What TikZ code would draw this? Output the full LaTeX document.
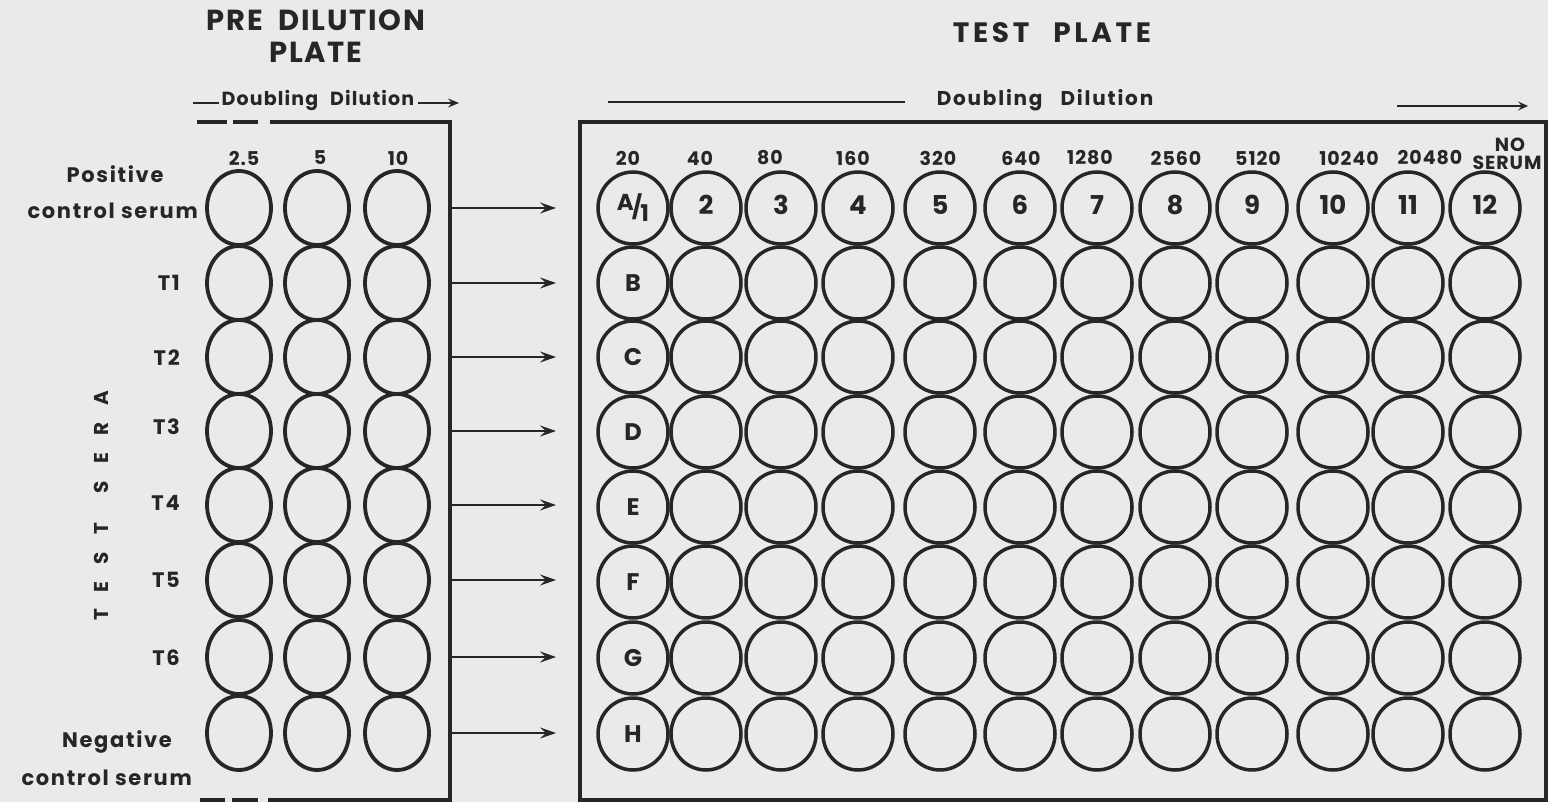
\documentclass[tikz,border=0pt]{standalone}
\usepackage{fontspec}
\setmainfont{Poppins}
\usetikzlibrary{shapes.geometric,arrows.meta}
\definecolor{bg}{RGB}{234,234,234}
\definecolor{ink}{RGB}{38,38,38}
\begin{document}
\begin{tikzpicture}[x=1pt,y=-1pt,
  every node/.style={text=ink},
  pwell/.style={draw=ink,line width=3.8pt,ellipse,inner sep=0pt,minimum width=64pt,minimum height=74pt},
  twell/.style={draw=ink,line width=3.5pt,ellipse,inner sep=0pt,minimum width=70pt,minimum height=72pt},
  lbl/.style={inner sep=0pt,font=\fontsize{21}{23}\selectfont\bfseries\addfontfeatures{LetterSpace=8}},
  collbl/.style={inner sep=0pt,font=\fontsize{19}{21}\selectfont\bfseries\addfontfeatures{LetterSpace=5}},
  title/.style={inner sep=0pt,font=\fontsize{29}{32}\selectfont\bfseries\addfontfeatures{LetterSpace=6}},
  plateline/.style={draw=ink,line width=3.6pt},
  conn/.style={draw=ink,line width=2.6pt,-{Stealth[length=16pt,width=11pt,inset=6pt]}},
]
\fill[bg] (0,0) rectangle (1548,802);
\useasboundingbox (0,0) rectangle (1548,802);

% titles
\node[title,align=center] (pretitle) at (316,36) {PRE\hspace{16pt}DILUTION\\PLATE};
\node[title,font=\fontsize{28}{31}\selectfont\bfseries\addfontfeatures{LetterSpace=13}] (testtitle) at (1052,33) {TEST\hspace{24pt}PLATE};

% pre dilution header
\node[inner sep=0pt,font=\fontsize{19}{21}\selectfont\bfseries\addfontfeatures{LetterSpace=6}] (pdd) at (318,101) {Doubling\hspace{12pt}Dilution};
\coordinate (pdda) at (193,103);
\draw[ink,line width=2.6pt] (pdda) -- ([xshift=-3pt]pdd.west |- pdda);
\coordinate (pddb) at (459,103);
\draw[conn,line width=2.4pt,-{Stealth[length=11pt,width=9pt,inset=4pt]}] ([xshift=4pt]pdd.east |- pddb) -- (pddb);

% test plate header
\node[inner sep=0pt,font=\fontsize{20}{22}\selectfont\bfseries\addfontfeatures{LetterSpace=9}] (tdd) at (1045,100) {Doubling\hspace{18pt}Dilution};
\coordinate (tdda) at (608,102);
\draw[ink,line width=2.8pt] (tdda) -- (905,102);
\coordinate (tddb1) at (1397,106);
\coordinate (tddb2) at (1528,106);
\draw[conn,line width=2.8pt,-{Stealth[length=10pt,width=9pt,inset=4pt]}] (tddb1) -- (tddb2);

% pre dilution plate frame
\draw[plateline] (270,122) -- (450,122) -- (450,800) -- (268,800);
\draw[ink,line width=3.2pt] (197,122) -- (227,122) (233,122) -- (258,122);
\draw[ink,line width=3.2pt] (200,800) -- (225,800) (232,800) -- (258,800);

% test plate frame
\node[plateline,rectangle,inner sep=0pt,minimum width=966pt,minimum height=678pt] (tp) at (1063,461) {};

% pre dilution column labels
\node[collbl] (pc1) at (244,158) {2.5};
\node[collbl] (pc2) at (320,158) {5};
\node[collbl] (pc3) at (398,158) {10};

% pre dilution wells
\foreach \r/\y in {1/208,2/283,3/357,4/431,5/505,6/580,7/657,8/733}{
  \foreach \c/\x in {1/239,2/317,3/397}{
    \node[pwell] (p\r\c) at (\x,\y) {};
  }
  \coordinate (s\r) at (450,\y);
  \coordinate (e\r) at (556,\y);
  \draw[conn] (s\r) -- (e\r);
}

% row labels
\node[lbl] (lpos1) at (115,174) {Positive};
\node[lbl,anchor=east] (lpos2) at (198,211) {control serum};
\node[lbl,anchor=east] (lt1) at (180,283) {T1};
\node[lbl,anchor=east] (lt2) at (180,358) {T2};
\node[lbl,anchor=east] (lt3) at (180,427) {T3};
\node[lbl,anchor=east] (lt4) at (180,503) {T4};
\node[lbl,anchor=east] (lt5) at (180,580) {T5};
\node[lbl,anchor=east] (lt6) at (180,658) {T6};
\node[lbl] (lneg1) at (117,742) {Negative};
\node[lbl,anchor=east] (lneg2) at (192,778) {control serum};
\node[inner sep=0pt,rotate=90,font=\fontsize{20}{22}\selectfont\bfseries\addfontfeatures{LetterSpace=85}] (sera) at (101,506) {TEST\hspace{30pt}SERA};

% test plate column labels
\foreach \t/\x in {20/628,40/700,80/770,160/853,320/938,640/1021,1280/1090,2560/1176,5120/1258,10240/1349,20480/1430}{
  \node[collbl] (tc\t) at (\x,158) {\t};
}
\node[collbl] (tcno) at (1510,145) {NO};
\node[collbl] (tcser) at (1507,163) {SERUM};

% test plate wells
\foreach \r/\y in {1/208,2/283,3/357,4/432,5/507,6/582,7/658,8/734}{
  \foreach \c/\x in {1/633,2/706,3/781,4/858,5/940,6/1020,7/1097,8/1175,9/1252,10/1333,11/1408,12/1485}{
    \node[twell] (t\r-\c) at (\x,\y) {};
  }
}
% well texts
\node[inner sep=0pt,font=\fontsize{23}{25}\selectfont\bfseries] (a1t) at (t1-1) {\raisebox{5pt}{A}\kern-2pt/\kern-2pt\raisebox{-6pt}{1}};
\foreach \c in {2,...,12}{
  \node[inner sep=0pt,font=\fontsize{26}{28}\selectfont\bfseries] (n\c) at ([yshift=3pt]t1-\c) {\c};
}
\foreach \r/\l in {2/B,3/C,4/D,5/E,6/F,7/G,8/H}{
  \node[inner sep=0pt,font=\fontsize{24}{26}\selectfont\bfseries] (rl\r) at (t\r-1) {\l};
}
\end{tikzpicture}
\end{document}
